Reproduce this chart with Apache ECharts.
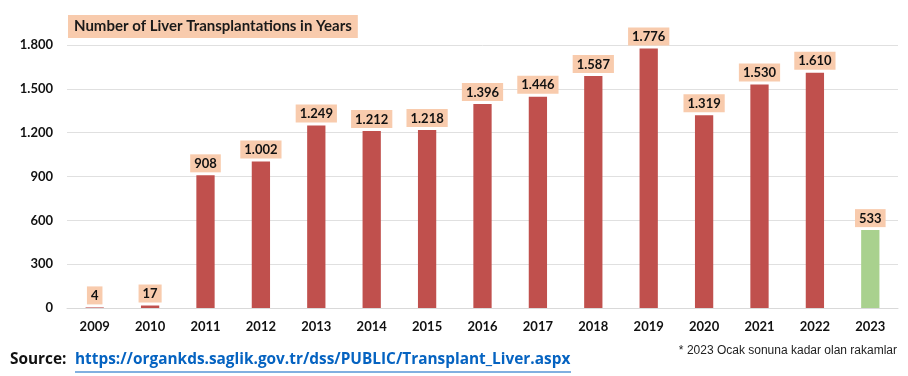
<html>
  <head>
    <meta charset="utf-8" />
    <script src="https://cdn.jsdelivr.net/npm/echarts@6/dist/echarts.min.js"></script>
  </head>
  <body>
    <style>
      html,
      body,
      #main {
        width: 100%;
        height: 100%;
        margin: 0;
        background: #fff;
      }
    </style>
    <div id="main"></div>
    <script>
      var chart = echarts.init(document.getElementById('main'));

      var years = ['2009', '2010', '2011', '2012', '2013', '2014', '2015', '2016',
        '2017', '2018', '2019', '2020', '2021', '2022', '2023'];
      var transplants = [4, 17, 908, 1002, 1249, 1212, 1218, 1396, 1446, 1587, 1776, 1319, 1530, 1610, 533];
      var yTicks = [0, 300, 600, 900, 1200, 1500, 1800];

      // turkish style thousands: 1.776
      function fmt(v) {
        return String(v).replace(/\B(?=(\d{3})+(?!\d))/g, '.');
      }

      var font = 'Lato, "Open Sans", sans-serif';
      var srcFont = '"Open Sans", Lato, sans-serif';

      var option = {
        backgroundColor: '#fff',
        title: {
          text: 'Number of Liver Transplantations in Years',
          left: 68,
          top: 15,
          padding: [4, 6, 4, 6],
          backgroundColor: '#F8CBAD',
          textStyle: { fontFamily: font, fontSize: 15, fontWeight: 'bold', color: '#1a1a1a' }
        },
        grid: { left: 67, right: 10, top: 45, bottom: 68 },
        xAxis: {
          type: 'category',
          data: years,
          axisTick: { show: false },
          axisLine: { lineStyle: { color: '#d9d9d9' } },
          axisLabel: { fontFamily: font, fontSize: 13, fontWeight: 'bold', color: '#111', margin: 12 }
        },
        yAxis: {
          type: 'value',
          min: yTicks[0],
          max: yTicks[yTicks.length - 1],
          interval: 300,
          axisLine: { show: false },
          axisTick: { show: false },
          splitLine: { lineStyle: { color: '#e0e0e0' } },
          axisLabel: { fontFamily: font, fontSize: 13, fontWeight: 'bold', color: '#111', margin: 14, formatter: fmt }
        },
        series: [{
          type: 'bar',
          barWidth: '33%',
          data: transplants.map(function (v, i) {
            return {
              value: v,
              itemStyle: { color: i === transplants.length - 1 ? '#A9D18E' : '#C0504D' }
            };
          }),
          label: {
            show: true,
            position: 'top',
            distance: 3,
            formatter: function (p) { return fmt(p.value); },
            backgroundColor: '#F8CBAD',
            padding: [3, 4, 2, 4],
            fontFamily: font,
            fontSize: 13,
            fontWeight: 'bold',
            color: '#111'
          }
        }],
        graphic: [
          {
            type: 'text',
            left: 10,
            top: 352,
            style: { text: 'Source:', fontFamily: srcFont, fontSize: 15.4, fontWeight: 'bold', fill: '#111' }
          },
          {
            type: 'text',
            left: 75,
            top: 352,
            style: {
              text: 'https://organkds.saglik.gov.tr/dss/PUBLIC/Transplant_Liver.aspx',
              fontFamily: srcFont,
              fontSize: 15.4,
              fontWeight: 'bold',
              fill: '#0563C1'
            }
          },
          {
            type: 'line',
            shape: { x1: 75, y1: 372, x2: 571, y2: 372 },
            style: { stroke: '#0563C1', lineWidth: 1.2 }
          },
          {
            type: 'text',
            right: 11,
            top: 345,
            style: {
              text: '* 2023 Ocak sonuna kadar olan rakamlar',
              fontFamily: 'Arial, "Liberation Sans", sans-serif',
              fontSize: 12,
              fill: '#222'
            }
          }
        ]
      };

      chart.setOption(option);

      window.onresize = function () {
        chart.resize();
      };
    </script>
  </body>
</html>
